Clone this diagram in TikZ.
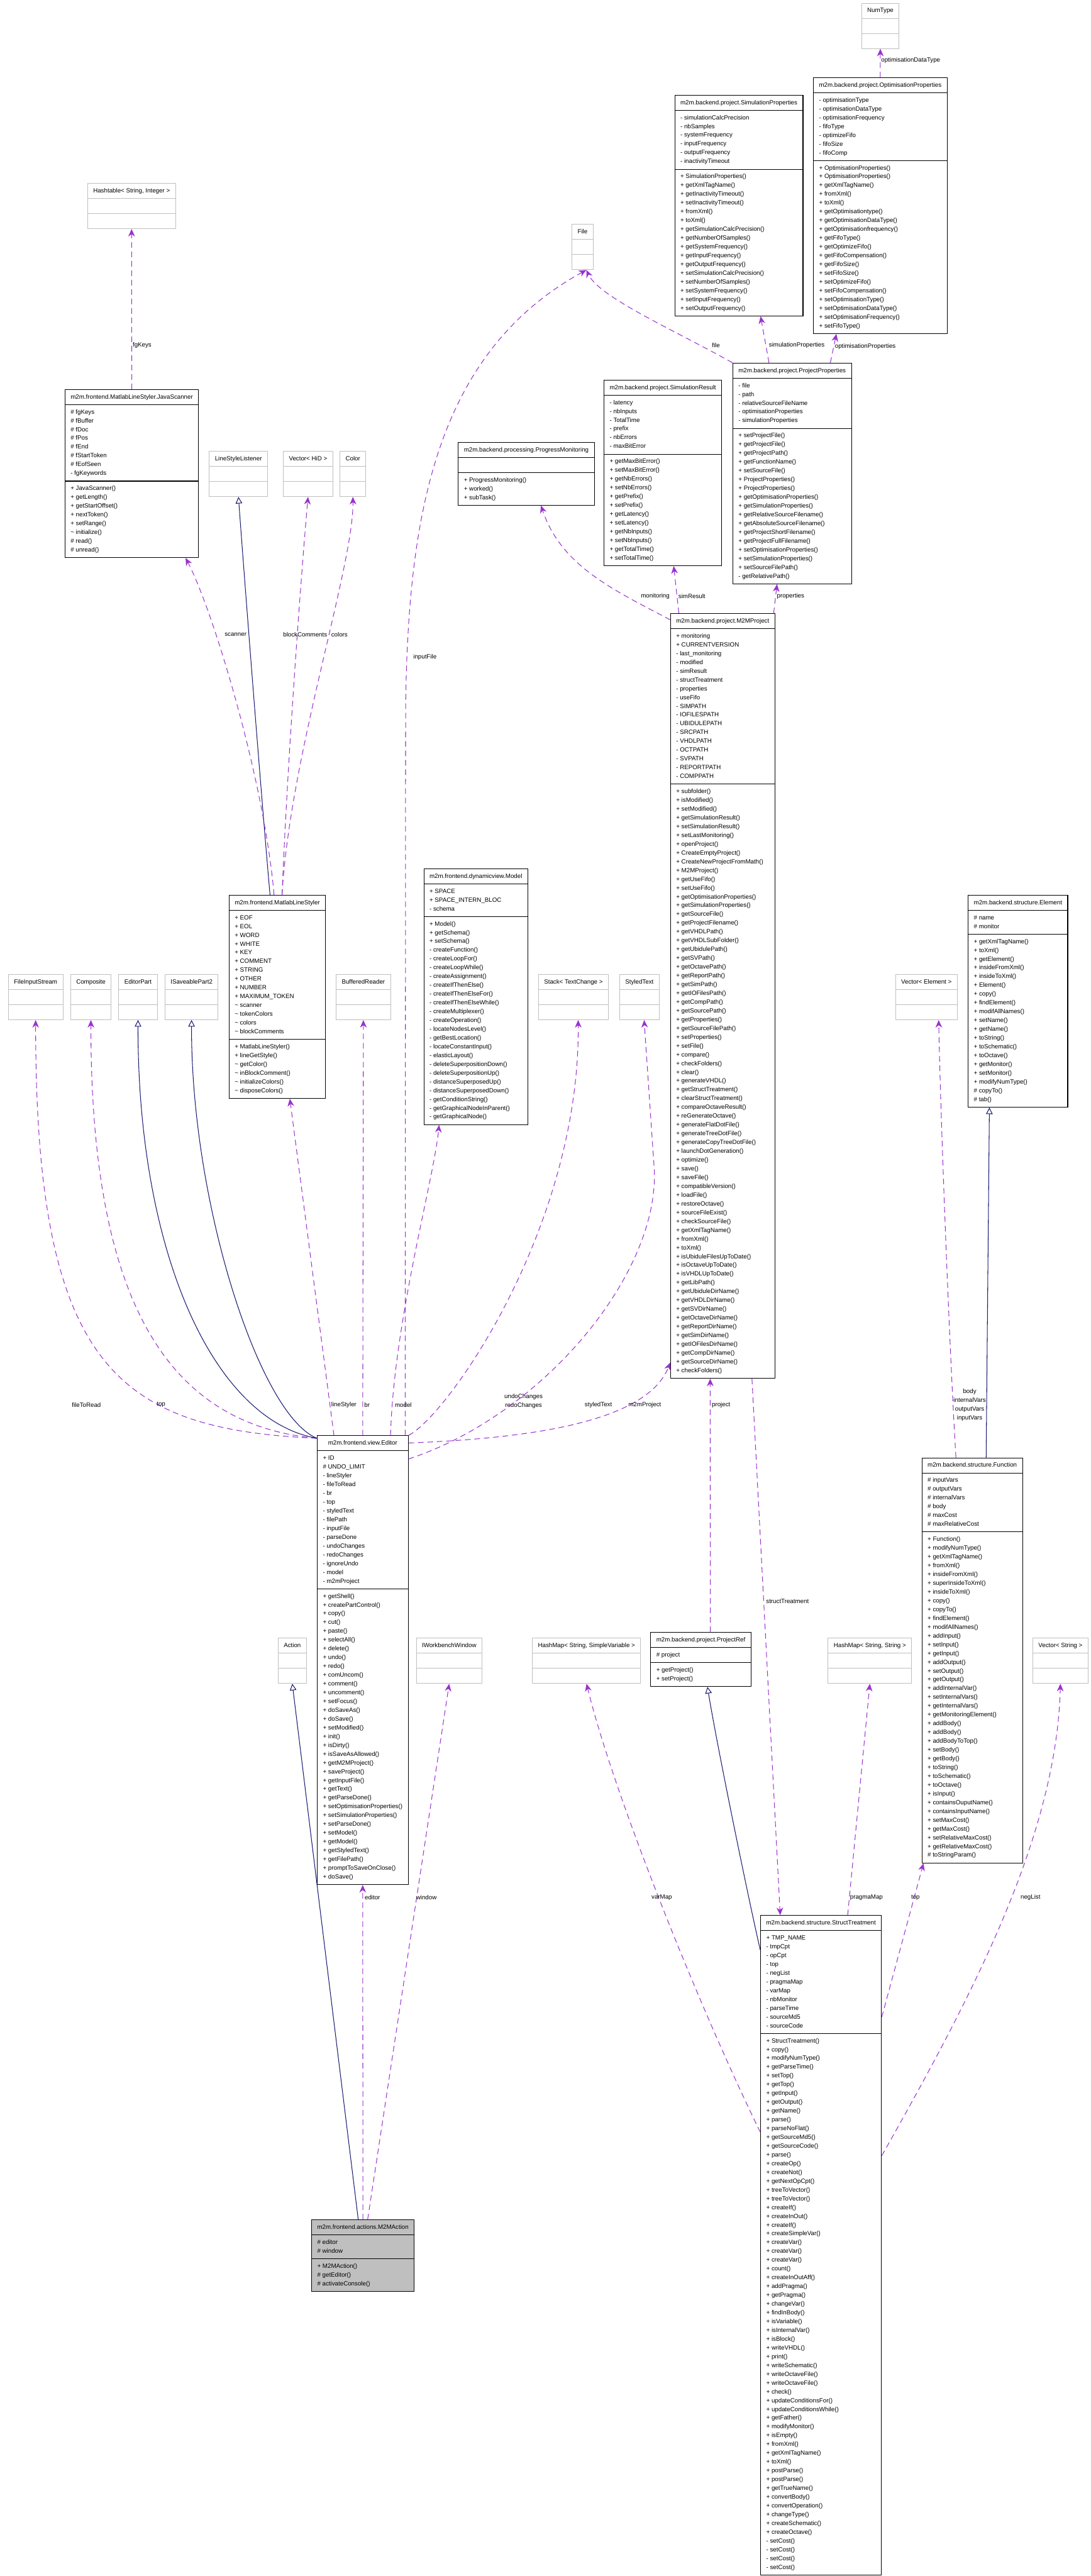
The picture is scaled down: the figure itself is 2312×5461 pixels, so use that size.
\documentclass[tikz,border=0pt]{standalone}
\usepackage{fontspec}
\setmainfont{Liberation Sans}
\usetikzlibrary{arrows.meta,shapes.multipart}

\definecolor{deppurple}{RGB}{154,50,205}
\definecolor{inhnavy}{RGB}{25,25,112}
\definecolor{extgray}{RGB}{191,191,191}

\newcommand{\clsfont}{\fontsize{6.5}{9.3}\selectfont}
% class box: style, name, top-left corner, title, attributes, operations
\newcommand{\umlclass}[6][cls]{%
  \node[#1] (#2) at (#3) {\strut#4\strut\nodepart{two}\strut#5\strut\nodepart{three}\strut#6\strut};}

\begin{document}
\begin{tikzpicture}[x=0.5pt, y=-0.5pt,
  cls/.style={rectangle split, rectangle split parts=3,
    rectangle split part align={center,left,left}, draw=black, line width=0.7pt,
    font=\clsfont, align=left, inner xsep=6pt, inner ysep=3pt, anchor=north west},
  ext/.style={cls, draw=extgray},
  act/.style={cls, fill=extgray},
  dep/.style={deppurple, line width=0.7pt, dash pattern=on 6pt off 4pt,
    -{Stealth[length=8pt, width=7pt, inset=2.5pt]}},
  inh/.style={inhnavy, line width=0.7pt, -{Triangle[open, length=7pt, width=7pt, fill=white]}},
  elabel/.style={font=\clsfont, inner sep=1pt}]
\useasboundingbox (0,0) rectangle (2312,5461);

% top area
\umlclass[ext]{numtype}{1826,6}{NumType}{}{}
\umlclass{optprops}{1724,164}{m2m.backend.project.OptimisationProperties}
  {- optimisationType\\- optimisationDataType\\- optimisationFrequency\\- fifoType\\- optimizeFifo\\- fifoSize\\- fifoComp}
  {+ OptimisationProperties()\\+ OptimisationProperties()\\+ getXmlTagName()\\+ fromXml()\\+ toXml()\\+ getOptimisationtype()\\+ getOptimisationDataType()\\+ getOptimisationfrequency()\\+ getFifoType()\\+ getOptimizeFifo()\\+ getFifoCompensation()\\+ getFifoSize()\\+ setFifoSize()\\+ setOptimizeFifo()\\+ setFifoCompensation()\\+ setOptimisationType()\\+ setOptimisationDataType()\\+ setOptimisationFrequency()\\+ setFifoType()}
\umlclass{simprops}{1430,201}{m2m.backend.project.SimulationProperties}
  {- simulationCalcPrecision\\- nbSamples\\- systemFrequency\\- inputFrequency\\- outputFrequency\\- inactivityTimeout}
  {+ SimulationProperties()\\+ getXmlTagName()\\+ getInactivityTimeout()\\+ setInactivityTimeout()\\+ fromXml()\\+ toXml()\\+ getSimulationCalcPrecision()\\+ getNumberOfSamples()\\+ getSystemFrequency()\\+ getInputFrequency()\\+ getOutputFrequency()\\+ setSimulationCalcPrecision()\\+ setNumberOfSamples()\\+ setSystemFrequency()\\+ setInputFrequency()\\+ setOutputFrequency()}
\umlclass[ext]{file}{1212,475}{File}{}{}
\umlclass[ext]{hashtable}{185,388}{Hashtable< String, Integer >}{}{}
\umlclass{javascanner}{137,825}{m2m.frontend.MatlabLineStyler.JavaScanner}
  {\# fgKeys\\\# fBuffer\\\# fDoc\\\# fPos\\\# fEnd\\\# fStartToken\\\# fEofSeen\\- fgKeywords}
  {+ JavaScanner()\\+ getLength()\\+ getStartOffset()\\+ nextToken()\\+ setRange()\\\textasciitilde{} initialize()\\\# read()\\\# unread()}
\umlclass[ext]{lsl}{443,956}{LineStyleListener}{}{}
\umlclass[ext]{vechid}{600,956}{Vector< HiD >}{}{}
\umlclass[ext]{color}{720,956}{Color}{}{}
\umlclass{progmon}{971,937}{m2m.backend.processing.ProgressMonitoring}{}
  {+ ProgressMonitoring()\\+ worked()\\+ subTask()}
\umlclass{simres}{1280,805}{m2m.backend.project.SimulationResult}
  {- latency\\- nbInputs\\- TotalTime\\- prefix\\- nbErrors\\- maxBitError}
  {+ getMaxBitError()\\+ setMaxBitError()\\+ getNbErrors()\\+ setNbErrors()\\+ getPrefix()\\+ setPrefix()\\+ getLatency()\\+ setLatency()\\+ getNbInputs()\\+ setNbInputs()\\+ getTotalTime()\\+ setTotalTime()}
\umlclass{projprops}{1553,769}{m2m.backend.project.ProjectProperties}
  {- file\\- path\\- relativeSourceFileName\\- optimisationProperties\\- simulationProperties}
  {+ setProjectFile()\\+ getProjectFile()\\+ getProjectPath()\\+ getFunctionName()\\+ setSourceFile()\\+ ProjectProperties()\\+ ProjectProperties()\\+ getOptimisationProperties()\\+ getSimulationProperties()\\+ getRelativeSourceFilename()\\+ getAbsoluteSourceFilename()\\+ getProjectShortFilename()\\+ getProjectFullFilename()\\+ setOptimisationProperties()\\+ setSimulationProperties()\\+ setSourceFilePath()\\- getRelativePath()}

% middle area
\umlclass{m2mproject}{1421,1300}{m2m.backend.project.M2MProject}
  {+ monitoring\\+ CURRENTVERSION\\- last\_monitoring\\- modified\\- simResult\\- structTreatment\\- properties\\- useFifo\\- SIMPATH\\- IOFILESPATH\\- UBIDULEPATH\\- SRCPATH\\- VHDLPATH\\- OCTPATH\\- SVPATH\\- REPORTPATH\\- COMPPATH}
  {+ subfolder()\\+ isModified()\\+ setModified()\\+ getSimulationResult()\\+ setSimulationResult()\\+ setLastMonitoring()\\+ openProject()\\+ CreateEmptyProject()\\+ CreateNewProjectFromMath()\\+ M2MProject()\\+ getUseFifo()\\+ setUseFifo()\\+ getOptimisationProperties()\\+ getSimulationProperties()\\+ getSourceFile()\\+ getProjectFilename()\\+ getVHDLPath()\\+ getVHDLSubFolder()\\+ getUbidulePath()\\+ getSVPath()\\+ getOctavePath()\\+ getReportPath()\\+ getSimPath()\\+ getIOFilesPath()\\+ getCompPath()\\+ getSourcePath()\\+ getProperties()\\+ getSourceFilePath()\\+ setProperties()\\+ setFile()\\+ compare()\\+ checkFolders()\\+ clear()\\+ generateVHDL()\\+ getStructTreatment()\\+ clearStructTreatment()\\+ compareOctaveResult()\\+ reGenerateOctave()\\+ generateFlatDotFile()\\+ generateTreeDotFile()\\+ generateCopyTreeDotFile()\\+ launchDotGeneration()\\+ optimize()\\+ save()\\+ saveFile()\\+ compatibleVersion()\\+ loadFile()\\+ restoreOctave()\\+ sourceFileExist()\\+ checkSourceFile()\\+ getXmlTagName()\\+ fromXml()\\+ toXml()\\+ isUbiduleFilesUpToDate()\\+ isOctaveUpToDate()\\+ isVHDLUpToDate()\\+ getLibPath()\\+ getUbiduleDirName()\\+ getVHDLDirName()\\+ getSVDirName()\\+ getOctaveDirName()\\+ getReportDirName()\\+ getSimDirName()\\+ getIOFilesDirName()\\+ getCompDirName()\\+ getSourceDirName()\\+ checkFolders()}
\umlclass{model}{898,1841}{m2m.frontend.dynamicview.Model}
  {+ SPACE\\+ SPACE\_INTERN\_BLOC\\- schema}
  {+ Model()\\+ getSchema()\\+ setSchema()\\- createFunction()\\- createLoopFor()\\- createLoopWhile()\\- createAssignment()\\- createIfThenElse()\\- createIfThenElseFor()\\- createIfThenElseWhile()\\- createMultiplexer()\\- createOperation()\\- locateNodesLevel()\\- getBestLocation()\\- locateConstantInput()\\- elasticLayout()\\- deleteSuperpositionDown()\\- deleteSuperpositionUp()\\- distanceSuperposedUp()\\- distanceSuperposedDown()\\- getConditionString()\\- getGraphicalNodeInParent()\\- getGraphicalNode()}
\umlclass{mls}{485,1897}{m2m.frontend.MatlabLineStyler}
  {+ EOF\\+ EOL\\+ WORD\\+ WHITE\\+ KEY\\+ COMMENT\\+ STRING\\+ OTHER\\+ NUMBER\\+ MAXIMUM\_TOKEN\\\textasciitilde{} scanner\\\textasciitilde{} tokenColors\\\textasciitilde{} colors\\\textasciitilde{} blockComments}
  {+ MatlabLineStyler()\\+ lineGetStyle()\\\textasciitilde{} getColor()\\\textasciitilde{} inBlockComment()\\\textasciitilde{} initializeColors()\\\textasciitilde{} disposeColors()}
\umlclass{element}{2052,1897}{m2m.backend.structure.Element}
  {\# name\\\# monitor}
  {+ getXmlTagName()\\+ toXml()\\+ getElement()\\+ insideFromXml()\\+ insideToXml()\\+ Element()\\+ copy()\\+ findElement()\\+ modifAllNames()\\+ setName()\\+ getName()\\+ toString()\\+ toSchematic()\\+ toOctave()\\+ getMonitor()\\+ setMonitor()\\+ modifyNumType()\\\# copyTo()\\\# tab()}
\umlclass[ext]{fileinput}{17,2065}{FileInputStream}{}{}
\umlclass[ext]{composite}{149,2065}{Composite}{}{}
\umlclass[ext]{editorpart}{251,2065}{EditorPart}{}{}
\umlclass[ext]{isaveable}{349,2065}{ISaveablePart2}{}{}
\umlclass[ext]{bufreader}{712,2065}{BufferedReader}{}{}
\umlclass[ext]{stack}{1141,2065}{Stack< TextChange >}{}{}
\umlclass[ext]{styledtext}{1313,2065}{StyledText}{}{}
\umlclass[ext]{vecelement}{1898,2065}{Vector< Element >}{}{}

% lower area
\umlclass{editor}{672,3043}{m2m.frontend.view.Editor}
  {+ ID\\\# UNDO\_LIMIT\\- lineStyler\\- fileToRead\\- br\\- top\\- styledText\\- filePath\\- inputFile\\- parseDone\\- undoChanges\\- redoChanges\\- ignoreUndo\\- model\\- m2mProject}
  {+ getShell()\\+ createPartControl()\\+ copy()\\+ cut()\\+ paste()\\+ selectAll()\\+ delete()\\+ undo()\\+ redo()\\+ comUncom()\\+ comment()\\+ uncomment()\\+ setFocus()\\+ doSaveAs()\\+ doSave()\\+ setModified()\\+ init()\\+ isDirty()\\+ isSaveAsAllowed()\\+ getM2MProject()\\+ saveProject()\\+ getInputFile()\\+ getText()\\+ getParseDone()\\+ setOptimisationProperties()\\+ setSimulationProperties()\\+ setParseDone()\\+ setModel()\\+ getModel()\\+ getStyledText()\\+ getFilePath()\\+ promptToSaveOnClose()\\+ doSave()}
\umlclass{function}{1954,3090}{m2m.backend.structure.Function}
  {\# inputVars\\\# outputVars\\\# internalVars\\\# body\\\# maxCost\\\# maxRelativeCost}
  {+ Function()\\+ modifyNumType()\\+ getXmlTagName()\\+ fromXml()\\+ insideFromXml()\\+ superInsideToXml()\\+ insideToXml()\\+ copy()\\+ copyTo()\\+ findElement()\\+ modifAllNames()\\+ addInput()\\+ setInput()\\+ getInput()\\+ addOutput()\\+ setOutput()\\+ getOutput()\\+ addInternalVar()\\+ setInternalVars()\\+ getInternalVars()\\+ getMonitoringElement()\\+ addBody()\\+ addBody()\\+ addBodyToTop()\\+ setBody()\\+ getBody()\\+ toString()\\+ toSchematic()\\+ toOctave()\\+ isInput()\\+ containsOuputName()\\+ containsInputName()\\+ setMaxCost()\\+ getMaxCost()\\+ setRelativeMaxCost()\\+ getRelativeMaxCost()\\\# toStringParam()}
\umlclass[ext]{action}{589,3472}{Action}{}{}
\umlclass[ext]{iwbwindow}{882,3472}{IWorkbenchWindow}{}{}
\umlclass[ext]{hmvar}{1128,3472}{HashMap< String, SimpleVariable >}{}{}
\umlclass{projectref}{1379,3460}{m2m.backend.project.ProjectRef}
  {\# project}{+ getProject()\\+ setProject()}
\umlclass[ext]{hmstr}{1755,3472}{HashMap< String, String >}{}{}
\umlclass[ext]{vecstring}{2189,3472}{Vector< String >}{}{}
\umlclass{structtreat}{1612,4060}{m2m.backend.structure.StructTreatment}
  {+ TMP\_NAME\\- tmpCpt\\- opCpt\\- top\\- negList\\- pragmaMap\\- varMap\\- nbMonitor\\- parseTime\\- sourceMd5\\- sourceCode}
  {+ StructTreatment()\\+ copy()\\+ modifyNumType()\\+ getParseTime()\\+ setTop()\\+ getTop()\\+ getInput()\\+ getOutput()\\+ getName()\\+ parse()\\+ parseNoFlat()\\+ getSourceMd5()\\+ getSourceCode()\\+ parse()\\+ createOp()\\+ createNot()\\+ getNextOpCpt()\\+ treeToVector()\\+ treeToVector()\\+ createIf()\\+ createInOut()\\+ createIf()\\+ createSimpleVar()\\+ createVar()\\+ createVar()\\+ createVar()\\+ count()\\+ createInOutAff()\\+ addPragma()\\+ getPragma()\\+ changeVar()\\+ findInBody()\\+ isVariable()\\+ isInternalVar()\\+ isBlock()\\+ writeVHDL()\\+ print()\\+ writeSchematic()\\+ writeOctaveFile()\\+ writeOctaveFile()\\+ check()\\+ updateConditionsFor()\\+ updateConditionsWhile()\\+ getFather()\\+ modifyMonitor()\\+ isEmpty()\\+ fromXml()\\+ getXmlTagName()\\+ toXml()\\+ postParse()\\+ postParse()\\+ getTrueName()\\+ convertBody()\\+ convertOperation()\\+ changeType()\\+ createSchematic()\\+ createOctave()\\- setCost()\\- setCost()\\- setCost()\\- setCost()}
\umlclass[act]{m2maction}{660,4705}{m2m.frontend.actions.M2MAction}
  {\# editor\\\# window}{+ M2MAction()\\\# getEditor()\\\# activateConsole()}

% connectors, top area
\draw[dep] (optprops.north) -- (numtype.south);
\node[elabel, anchor=west] (l-optdt) at (1866,128) {optimisationDataType};
\draw[dep] ([xshift=40.5pt]projprops.north) -- ([xshift=-46.5pt]optprops.south);
\node[elabel, anchor=west] (l-optprops) at (1768,735) {optimisationProperties};
\draw[dep] ([xshift=-24.5pt]projprops.north) -- ([xshift=23pt]simprops.south);
\node[elabel, anchor=west] (l-simprops) at (1628,732) {simulationProperties};
\draw[dep] (projprops.north west) .. controls (1430,700) and (1270,630) .. ([xshift=4pt]file.south);
\node[elabel] (l-file) at (1518,732) {file};
\draw[dep] (javascanner.north) -- (hashtable.south);
\node[elabel, anchor=west] (l-fgkeys) at (279,732) {fgKeys};
\draw[dep] ([yshift=-7pt]m2mproject.north west) .. controls (1300,1250) and (1190,1200) .. ([xshift=15.5pt]progmon.south);
\node[elabel, anchor=east] (l-monitoring) at (1422,1264) {monitoring};
\draw[dep] ([xshift=-46.5pt]m2mproject.north) -- ([xshift=11.5pt]simres.south);
\node[elabel, anchor=west] (l-simres) at (1436,1264) {simResult};
\draw[dep] ([xshift=54pt]m2mproject.north) -- ([xshift=-16pt]projprops.south);
\node[elabel, anchor=west] (l-props) at (1645,1264) {properties};

% connectors, line styler
\draw[inh] ([xshift=-7.75pt]mls.north) .. controls (555,1700) and (520,1250) .. (lsl.south);
\draw[dep] ([xshift=-3.5pt]mls.north) .. controls (560,1650) and (450,1290) .. ([xshift=57pt]javascanner.south);
\node[elabel, anchor=west] (l-scanner) at (474,1345) {scanner};
\draw[dep] ([xshift=5pt]mls.north) .. controls (610,1600) and (640,1200) .. (vechid.south);
\draw[dep] ([xshift=5pt]mls.north) .. controls (615,1600) and (750,1200) .. (color.south);
\node[elabel, anchor=west] (l-blockcom) at (598,1345) {blockComments};
\node[elabel, anchor=west] (l-colors) at (700,1345) {colors};

% connectors, editor
\draw[dep] ([xshift=-30.5pt]editor.north) -- ([xshift=13.25pt]mls.south);
\node[elabel, anchor=west] (l-linestyler) at (700,2978) {lineStyler};
\draw[dep] (editor.north) -- (bufreader.south);
\node[elabel, anchor=west] (l-br) at (770,2978) {br};
\draw[dep] ([xshift=29.5pt]editor.north) .. controls (835,2800) and (920,2500) .. ([xshift=-39pt]model.south);
\node[elabel, anchor=west] (l-model) at (835,2978) {model};
\draw[dep] ([xshift=45pt]editor.north) -- (860,1500) .. controls (865,1100) and (920,750) .. ([xshift=4pt]file.south);
\node[elabel, anchor=west] (l-inputfile) at (874,1393) {inputFile};
\draw[dep] (editor.north east) .. controls (950,3000) and (1230,2600) .. ([xshift=5pt]stack.south);
\node[elabel, align=center] (l-undo) at (1110,2970) {undoChanges\\redoChanges};
\draw[dep] ([yshift=-25pt]editor.north east) .. controls (1150,3000) and (1400,2700) .. (1387,2476) .. controls (1375,2300) .. ([xshift=5pt]styledtext.south);
\node[elabel, anchor=east] (l-styled) at (1300,2978) {styledText};
\draw[dep] ([yshift=-8pt]editor.north east) .. controls (1100,3050) and (1370,3020) .. ([yshift=17pt]m2mproject.south west);
\node[elabel, anchor=west] (l-m2mproject) at (1330,2978) {m2mProject};
\draw[dep] ([yshift=-3pt]editor.north west) .. controls (250,3030) and (75,2900) .. (fileinput.south);
\node[elabel, anchor=west] (l-filetoread) at (150,2978) {fileToRead};
\draw[dep] ([yshift=-3pt]editor.north west) .. controls (350,3020) and (192,2750) .. (composite.south);
\node[elabel, anchor=west] (l-top1) at (330,2978) {top};
\draw[inh] ([yshift=-3pt]editor.north west) .. controls (450,3010) and (292,2650) .. (editorpart.south);
\draw[inh] ([yshift=-3pt]editor.north west) .. controls (550,3000) and (405,2550) .. (isaveable.south);

% connectors, project and structure
\draw[dep] ([xshift=10pt]projectref.north) -- ([xshift=-13.25pt]m2mproject.south);
\node[elabel, anchor=west] (l-project) at (1507,2978) {project};
\draw[dep] ([xshift=31pt]m2mproject.south) -- ([xshift=-43.25pt]structtreat.north);
\node[elabel, anchor=west] (l-struct) at (1622,3395) {structTreatment};
\draw[inh] ([xshift=14.75pt]function.north) -- ([xshift=-30.25pt]element.south);
\draw[dep] ([xshift=-17.25pt]function.north) .. controls (2015,2900) and (1995,2400) .. ([xshift=13pt]vecelement.south);
\node[elabel, align=center] (l-body) at (2056,2978) {body\\internalVars\\outputVars\\inputVars};
\draw[dep] ([yshift=-108pt]structtreat.north east) -- ([xshift=2pt]function.south west);
\node[elabel] (l-top2) at (1941,4023) {top};
\draw[dep] ([yshift=-255pt]structtreat.north east) .. controls (2050,4250) and (2240,3900) .. (vecstring.south);
\node[elabel] (l-neglist) at (2185,4023) {negList};
\draw[dep] ([xshift=28.25pt]structtreat.north) -- (hmstr.south);
\node[elabel, anchor=west] (l-pragma) at (1800,4023) {pragmaMap};
\draw[dep] ([yshift=-230pt]structtreat.north west) .. controls (1480,4250) and (1300,3800) .. (hmvar.south);
\node[elabel, anchor=west] (l-varmap) at (1379,4023) {varMap};
\draw[inh] ([yshift=-37pt]structtreat.north west) .. controls (1590,4040) and (1520,3700) .. ([xshift=7pt]projectref.south);

% connectors, action
\draw[inh] ([xshift=-5pt]m2maction.north) -- (action.south);
\draw[dep] (m2maction.north) -- (editor.south);
\node[elabel, anchor=west] (l-editor) at (771,4023) {editor};
\draw[dep] ([xshift=5pt]m2maction.north) -- (iwbwindow.south);
\node[elabel, anchor=west] (l-window) at (880,4023) {window};
\end{tikzpicture}
\end{document}
